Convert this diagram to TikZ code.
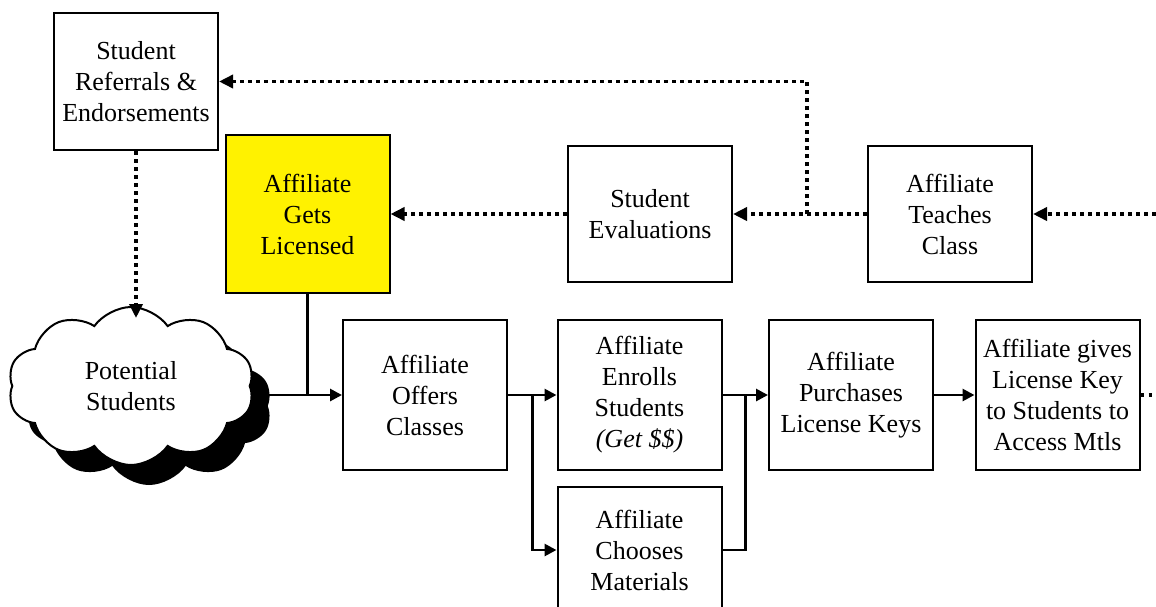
\documentclass[tikz,border=0pt]{standalone}
\usepackage{fontspec}
\setmainfont{Liberation Serif}
\usetikzlibrary{calc,arrows.meta,shapes.symbols,shadows}

\tikzset{
  box/.style={draw,rectangle,line width=1pt,minimum width=82pt,minimum height=75pt,align=center,inner sep=1pt},
  flow/.style={line width=1.4pt,-{Triangle[length=6pt,width=6pt]}},
  link/.style={line width=1.4pt},
  dotlink/.style={line width=1.9pt,dash pattern=on 1.9pt off 2.1pt},
  dotflow/.style={dotlink,-{Triangle[length=7pt,width=6.5pt]}}
}

\begin{document}
\begin{tikzpicture}[x=0.5pt,y=-0.5pt,font=\fontsize{13}{15.5}\selectfont]
\path[use as bounding box,clip] (0,0) rectangle (1156,606);

\node[box,minimum height=68.5pt] (refer) at (136,81.5) {Student\\Referrals \&\\Endorsements};
\node[box,fill=yellow,minimum height=79pt] (lic) at (307.5,214) {Affiliate\\Gets\\Licensed};
\node[box,minimum height=68pt] (eval) at (650,214) {Student\\Evaluations};
\node[box,minimum height=68pt] (teach) at (950,214) {Affiliate\\Teaches\\Class};

\node[cloud,draw,line width=1pt,fill=white,cloud puffs=10,cloud puff arc=110,aspect=1.5,
      minimum width=123pt,minimum height=79pt,inner sep=0pt,align=center,
      drop shadow={shadow xshift=9pt,shadow yshift=-10pt,fill=black,opacity=1}]
      (cloud) at (131,386) {Potential\\Students};

\node[box] (offer) at (425,395) {Affiliate\\Offers\\Classes};
\node[box] (enrol) at (639.5,395) {Affiliate\\Enrolls\\Students\\\textit{(Get \$\$)}};
\node[box,minimum height=63pt] (choose) at (639.5,550) {Affiliate\\Chooses\\Materials};
\node[box] (buy) at (851,395) {Affiliate\\Purchases\\License Keys};
\node[box] (gives) at (1057.5,395) {Affiliate gives\\License Key\\to Students to\\Access Mtls};

\coordinate (rightin) at (1156,214);
\coordinate (rightout) at (1156,395);
\coordinate (fork) at ($(teach.west)+(-60,0)$);
\coordinate (split) at ($(offer.east)!0.5!(enrol.west)$);
\coordinate (merge) at ($(enrol.east)!0.5!(buy.west)$);

% feedback loop
\draw[dotflow] (rightin) -- (teach.east);
\draw[dotflow] (teach.west) -- (eval.east);
\draw[dotflow] (fork) |- (refer.east);
\draw[dotflow] (eval.west) -- (lic.east);
\draw[dotflow,shorten >=-6pt] (refer.south) -- (refer.south |- cloud.north);

% main flow
\draw[link] (lic.south) -- (lic.south |- offer.west);
\draw[flow] ([xshift=9pt]cloud.east |- offer.west) -- (offer.west);
\draw[flow] (offer.east) -- (enrol.west);
\draw[flow] (split) |- (choose.west);
\draw[flow] (enrol.east) -- (buy.west);
\draw[link] (choose.east) -| (merge);
\draw[flow] (buy.east) -- (gives.west);
\draw[dotlink] (gives.east) -- (rightout);

\end{tikzpicture}
\end{document}
